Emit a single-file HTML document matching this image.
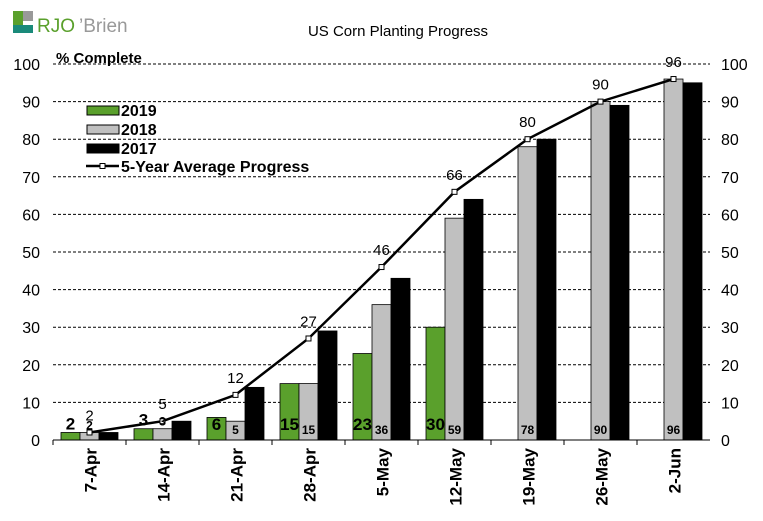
<!DOCTYPE html>
<html><head><meta charset="utf-8"><style>
body{margin:0;background:#fff;}
svg text{font-family:"Liberation Sans",Arial,sans-serif;}
</style></head><body>
<svg width="763" height="516" viewBox="0 0 763 516">
<g>
<rect x="13" y="11" width="10" height="20" fill="#5aa02c"/>
<rect x="23" y="11" width="10" height="10" fill="#999"/>
<rect x="13" y="25" width="20" height="8" fill="#1a8a7a"/>
<text x="37" y="32" font-size="19" fill="#5aa02c">RJO</text>
<text x="79" y="32" font-size="19" fill="#999">’Brien</text>
</g>
<text x="398" y="36" font-size="15" text-anchor="middle">US Corn Planting Progress</text>
<text x="56" y="63" font-size="15" font-weight="bold">% Complete</text>
<g id="grid"></g><g id="bars"></g><g id="line"></g><g id="labels"></g><g id="axes"></g>
<g>
<g><rect x="87" y="106" width="32" height="9" fill="#5aa02c" stroke="#000"/><text x="121" y="116" font-size="16" font-weight="bold">2019</text></g>
<g><rect x="87" y="125" width="32" height="9" fill="#c0c0c0" stroke="#000"/><text x="121" y="135" font-size="16" font-weight="bold">2018</text></g>
<g><rect x="87" y="144" width="32" height="9" fill="#000" stroke="#000"/><text x="121" y="154" font-size="16" font-weight="bold">2017</text></g>
<g><line x1="86" y1="166" x2="119" y2="166" stroke="#000" stroke-width="2.5"/><rect x="100" y="163.5" width="5" height="5" fill="#fff" stroke="#000"/><text x="121" y="172" font-size="16" font-weight="bold">5-Year Average Progress</text></g>
</g>
</svg>
<script>
const categories=["7-Apr","14-Apr","21-Apr","28-Apr","5-May","12-May","19-May","26-May","2-Jun"];
const s2019=[2,3,6,15,23,30,null,null,null];
const s2018=[2,3,5,15,36,59,78,90,96];
const s2017=[2,5,14,29,43,64,80,89,95];
const avg5=[2,5,12,27,46,66,80,90,96];
const yTicks=[0,10,20,30,40,50,60,70,80,90,100];
const NS="http://www.w3.org/2000/svg";
const L=53,R=710,Y0=440,Y100=64,step=(R-L)/categories.length,bw=19;
const y=v=>Y0-(Y0-Y100)*v/100;
const cx=i=>L+step*(i+0.5);
function mk(p,t,a){const e=document.createElementNS(NS,t);for(const k in a)e.setAttribute(k,a[k]);document.getElementById(p).appendChild(e);return e;}
yTicks.forEach(t=>{
 if(t>0){const g=mk('grid','line',{x1:L,x2:R,y1:y(t),y2:y(t),stroke:'#000','stroke-dasharray':'3,2','stroke-width':1});
 
 }
 const a=mk('axes','text',{x:40,y:y(t)+6,'font-size':16,'text-anchor':'end'});a.textContent=t;
 
 
 const b=mk('axes','text',{x:721,y:y(t)+6,'font-size':16});b.textContent=t;
 
 
});
const base=mk('axes','line',{x1:L,x2:R,y1:Y0,y2:Y0,stroke:'#000'});


categories.forEach((c,i)=>{
 const tk=mk('axes','line',{x1:L+step*i,x2:L+step*i,y1:Y0,y2:Y0+5,stroke:'#000'});
 
 
 const x=cx(i);
 const lb=mk('axes','text',{x:x+7,y:448,'font-size':17,'font-weight':'bold','text-anchor':'end',transform:`rotate(-90 ${x+7} 448)`});lb.textContent=c;
 
 
 [[s2019,'#5aa02c',-1.5],[s2018,'#c0c0c0',-0.5],[s2017,'#000',0.5]].forEach(([s,col,o],k)=>{
  if(s[i]==null)return;
  const r=mk('bars','rect',{x:x+o*bw,y:y(s[i]),width:bw,height:Y0-y(s[i]),fill:col,stroke:'#000','stroke-width':0.8});
  
  
 });
 if(s2019[i]!=null){const t=mk('labels','text',{x:x-bw,y:430,'font-size':17,'font-weight':'bold','text-anchor':'middle'});t.textContent=s2019[i];
 if(y(s2019[i])>418)t.setAttribute('y',y(s2019[i])-3);
 
 }
 const t2=mk('labels','text',{x:x,y:y(s2018[i])>425?y(s2018[i])-3:434,'font-size':12,'font-weight':'bold','text-anchor':'middle'});t2.textContent=s2018[i];
 
 
 const t3=mk('labels','text',{x:x,y:y(avg5[i])-12,'font-size':15,'text-anchor':'middle'});t3.textContent=avg5[i];
 
 
});
const pl=mk('line','polyline',{points:avg5.map((v,i)=>cx(i)+','+y(v)).join(' '),fill:'none',stroke:'#000','stroke-width':2.5});


avg5.forEach((v,i)=>{const m=mk('line','rect',{x:cx(i)-2.5,y:y(v)-2.5,width:5,height:5,fill:'#fff',stroke:'#000'});
 
 });
</script>
</body></html>
